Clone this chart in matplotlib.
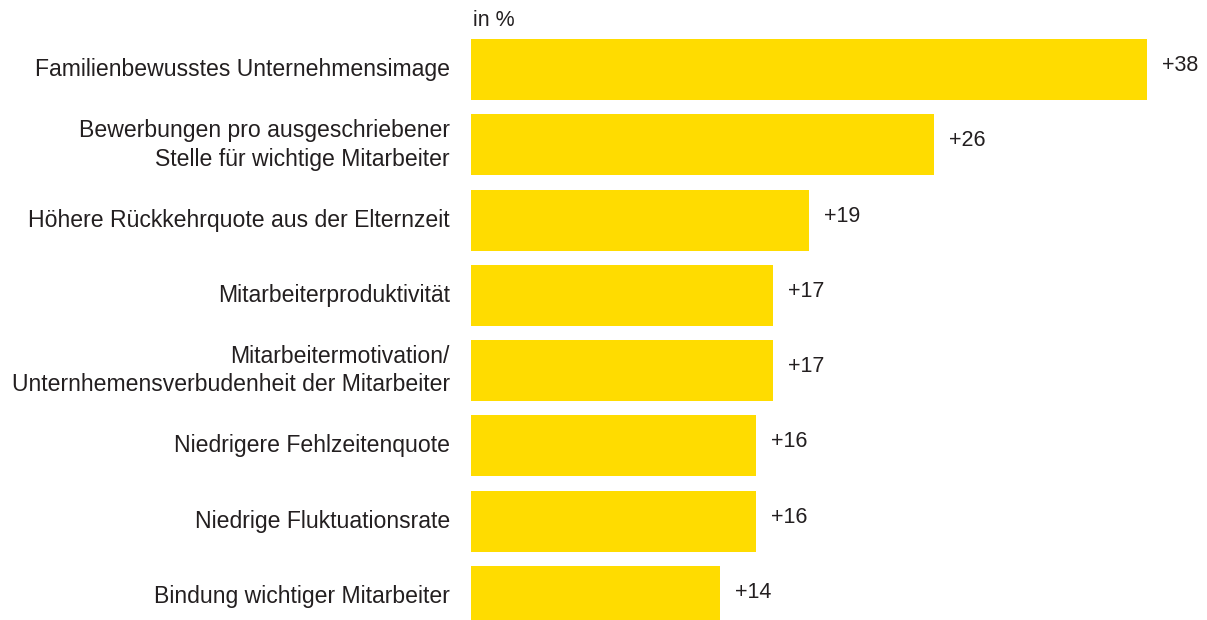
import matplotlib
matplotlib.use("Agg")
import matplotlib.pyplot as plt
from matplotlib.transforms import ScaledTranslation

plt.rcParams['font.family'] = ['Liberation Sans', 'DejaVu Sans']

labels = [
    "Familienbewusstes Unternehmensimage",
    "Bewerbungen pro ausgeschriebener\nStelle für wichtige Mitarbeiter",
    "Höhere Rückkehrquote aus der Elternzeit",
    "Mitarbeiterproduktivität",
    "Mitarbeitermotivation/\nUnternhemensverbudenheit der Mitarbeiter",
    "Niedrigere Fehlzeitenquote",
    "Niedrige Fluktuationsrate",
    "Bindung wichtiger Mitarbeiter",
]
values = [38, 26, 19, 17, 17, 16, 16, 14]
unit_label = "in %"

bar_color = "#FFDC00"
text_color = "#231F20"

W, H = 1207, 620
fig = plt.figure(figsize=(W / 100, H / 100), dpi=100)
ax = fig.add_axes([471 / W, 0, 1 - 471 / W, 581 / H])

ypos = list(range(len(values)))
ax.barh(ypos, values, height=0.81, color=bar_color, edgecolor="none")
ax.set_ylim(7.313, -0.405)
ax.set_xlim(0, 41.37)
ax.axis("off")

for y, v, lab in zip(ypos, values, labels):
    off = ScaledTranslation(15 / 100, 4 / 100, fig.dpi_scale_trans)
    ax.text(v, y, "+%d" % v, ha="left", va="center", fontsize=15.5,
            color=text_color, transform=ax.transData + off)
    off2 = ScaledTranslation(-21 / 100, 0, fig.dpi_scale_trans)
    ax.text(0, y, lab, ha="right", va="center", ma="right", fontsize=16.6,
            color=text_color, linespacing=1.32, transform=ax.transData + off2)

fig.text(473 / W, 1 - 20 / H, unit_label, ha="left", va="center",
         fontsize=15.5, color=text_color)

fig.savefig("out.png", dpi=100)
